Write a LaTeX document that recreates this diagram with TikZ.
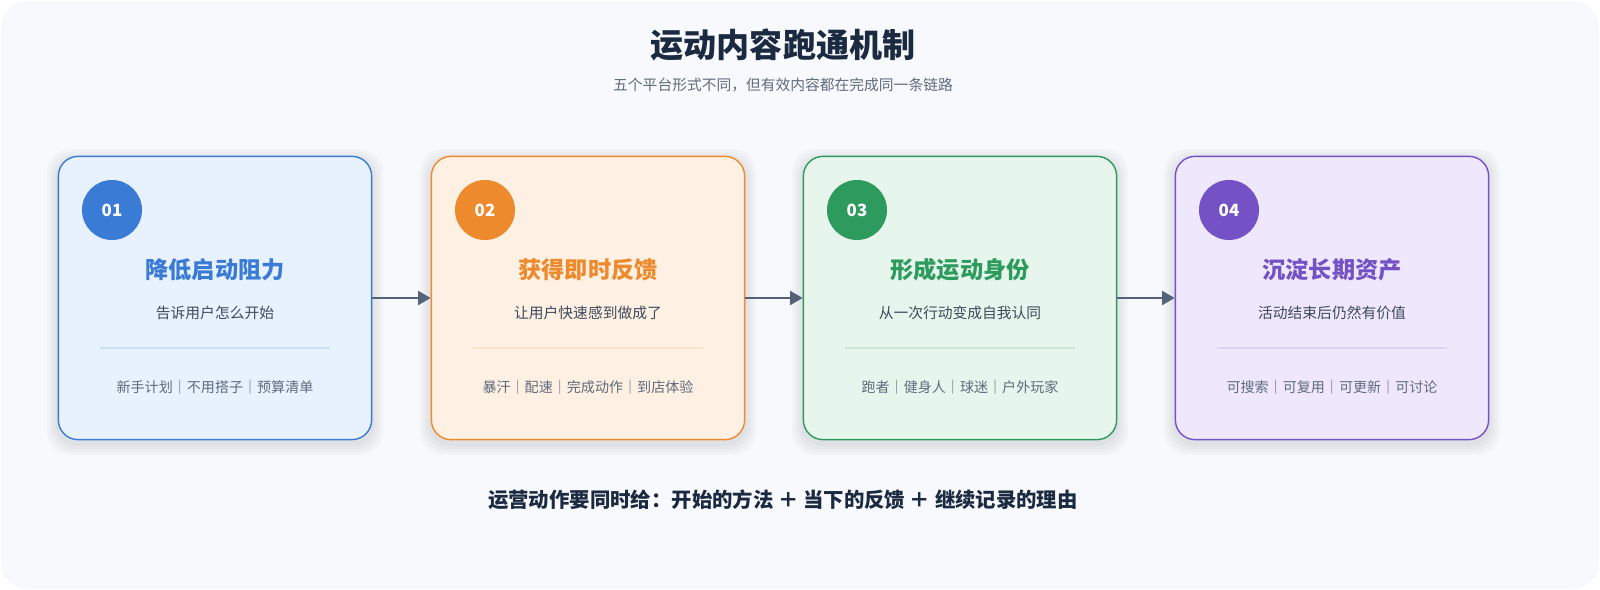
\documentclass[tikz,border=0pt]{standalone}
\usepackage{fontspec}
\setmainfont{Noto Sans CJK SC}
\usetikzlibrary{positioning,arrows.meta}
\definecolor{pagebg}{HTML}{F7F9FC}
\definecolor{ink}{HTML}{1B2A41}
\definecolor{grayink}{HTML}{5E6B7D}
\definecolor{arrowc}{HTML}{536179}
\definecolor{cblue}{HTML}{3A7BD5}\definecolor{fblue}{HTML}{E8F1FE}
\definecolor{corange}{HTML}{EE8A2E}\definecolor{forange}{HTML}{FEF0E2}
\definecolor{cgreen}{HTML}{2E9B5E}\definecolor{fgreen}{HTML}{E7F6EC}
\definecolor{cpurple}{HTML}{7452C6}\definecolor{fpurple}{HTML}{EFE8FC}
\tikzset{
  card/.style={draw=c#1, fill=f#1, line width=1pt, rounded corners=14pt,
    minimum width=7.83cm, minimum height=7.08cm},
  halo/.style={fill=black, opacity=0.025, rounded corners=16pt,
    minimum width=7.83cm+#1, minimum height=7.08cm+#1},
  badge/.style={circle, fill=c#1, text=white, minimum size=1.5cm, font=\bfseries\fontsize{12}{14}\selectfont},
  ctitle/.style={text=c#1, font=\bfseries\fontsize{16.5}{19}\selectfont},
  csub/.style={text=ink!85, font=\fontsize{10.5}{12}\selectfont},
  ctags/.style={text=grayink, font=\fontsize{10}{11}\selectfont},
  flow/.style={-{Triangle[length=9pt,width=10pt]}, line width=1.6pt, draw=arrowc}
}
\begin{document}
\begin{tikzpicture}[x=0.025cm,y=-0.025cm]
\useasboundingbox (0,0) rectangle (1600,590);
\fill[white] (0,0) rectangle (1600,590);
\draw[pagebg!60!gray!20, fill=pagebg, rounded corners=18pt] (2,2) rectangle (1598,588);
% heading
\node[text=ink, font=\bfseries\fontsize{23.5}{28}\selectfont] (title) at (783,45) {运动内容跑通机制};
\node[text=grayink, font=\fontsize{10.5}{12}\selectfont] (subtitle) at (783,85) {五个平台形式不同，但有效内容都在完成同一条链路};
% cards
\foreach \i/\x/\c/\t/\s/\g in {
  1/215/blue/降低启动阻力/告诉用户怎么开始/新手计划｜不用搭子｜预算清单,
  2/588/orange/获得即时反馈/让用户快速感到做成了/暴汗｜配速｜完成动作｜到店体验,
  3/960/green/形成运动身份/从一次行动变成自我认同/跑者｜健身人｜球迷｜户外玩家,
  4/1332/purple/沉淀长期资产/活动结束后仍然有价值/可搜索｜可复用｜可更新｜可讨论} {
  \foreach \w in {4,8,12,16}
    \node[halo=\w pt] at (\x,302) {};
  \node[card=\c] (card\i) at (\x,298) {};
  \node[badge=\c] (badge\i) at (\x-103,210) {0\i};
  \node[ctitle=\c] (head\i) at (\x,270) {\t};
  \node[csub] (sub\i) at (\x,313) {\s};
  \draw[c\c!25, line width=0.8pt] (\x-115,348) -- (\x+115,348);
  \node[ctags] (tags\i) at (\x,387) {\g};
}
\draw[flow] (card1) -- (card2);
\draw[flow] (card2) -- (card3);
\draw[flow] (card3) -- (card4);
% footer
\node[text=ink, font=\bfseries\fontsize{14.5}{17}\selectfont] (footer) at (783,500) {运营动作要同时给：开始的方法 ＋ 当下的反馈 ＋ 继续记录的理由};
\end{tikzpicture}
\end{document}
